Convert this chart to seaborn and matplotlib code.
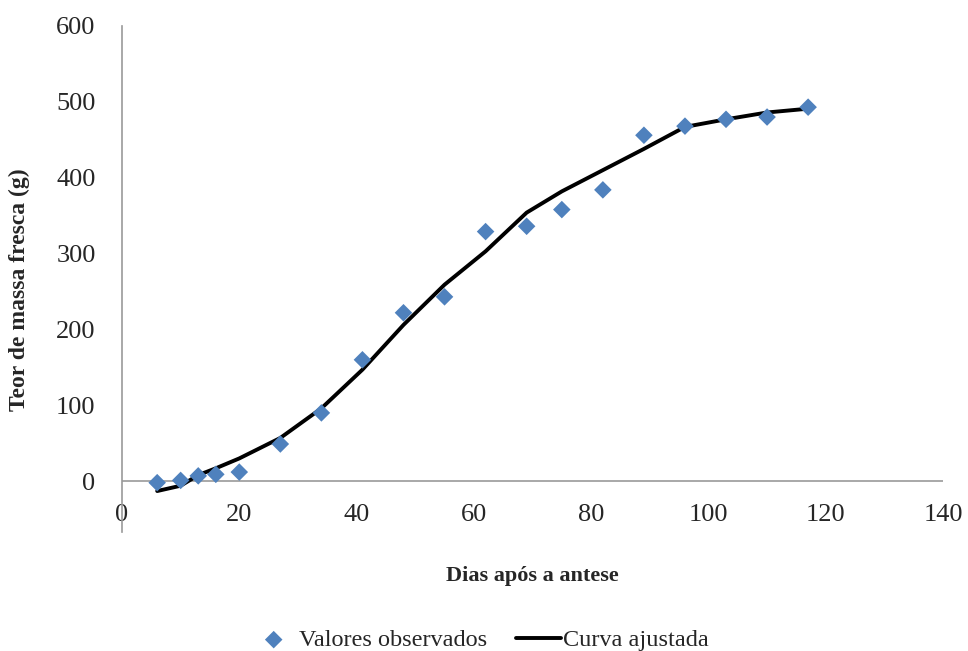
import matplotlib
matplotlib.use('Agg')
import matplotlib.pyplot as plt
import seaborn as sns

# dados
dias = [6, 10, 13, 16, 20, 27, 34, 41, 48, 55, 62, 69, 75, 82, 89, 96, 103, 110, 117]
observados = [-2, 1, 7, 9, 12, 49, 90, 160, 222, 243, 329, 336, 358, 384, 456, 468, 477, 480, 493]
ajustada = [-13, -6, 8, 17, 30, 57, 96, 147, 206, 259, 303, 354, 382, 410, 438, 467, 477, 486, 491]

x_ticks = [0, 20, 40, 60, 80, 100, 120, 140]
y_ticks = [0, 100, 200, 300, 400, 500, 600]

sns.set_style('white')
plt.rcParams['font.family'] = ['Liberation Serif', 'DejaVu Serif']

fig = plt.figure(figsize=(9.68, 6.51), dpi=100)
ax = fig.add_axes([122 / 968, 1 - 532 / 651, 821 / 968, 506 / 651])

sns.scatterplot(x=dias, y=observados, marker='D', s=80, color='#4F81BD',
                edgecolor='none', label='Valores observados', ax=ax, zorder=3)
sns.lineplot(x=dias, y=ajustada, color='black', linewidth=2.8,
             label='Curva ajustada', ax=ax, zorder=2)

ax.axhline(0, color='#999999', linewidth=1.2, zorder=1)
ax.set_xlim(0, 140)
ax.set_ylim(-67, 600)
ax.set_xticks(x_ticks)
ax.set_yticks(y_ticks)
ax.tick_params(axis='x', length=0, pad=-20, labelsize=19)
ax.tick_params(axis='y', length=0, pad=19, labelsize=19)

for side in ['top', 'right', 'bottom']:
    ax.spines[side].set_visible(False)
ax.spines['left'].set_color('#999999')
ax.spines['left'].set_linewidth(1.2)

ax.set_xlabel('Dias após a antese', fontsize=16, fontweight='bold')
ax.xaxis.set_label_coords(0.5, -0.068)
ax.set_ylabel('Teor de massa fresca (g)', fontsize=17, fontweight='bold')
ax.yaxis.set_label_coords(-0.112, 0.478)

handles, labels = ax.get_legend_handles_labels()
ax.get_legend().remove()
fig.legend(handles, labels, loc='center', bbox_to_anchor=(0.496, 1 - 640 / 651),
           ncol=2, frameon=False, fontsize=17.5, handlelength=1.85,
           columnspacing=1.2, handletextpad=0.1)

fig.savefig('out.png', dpi=100)
